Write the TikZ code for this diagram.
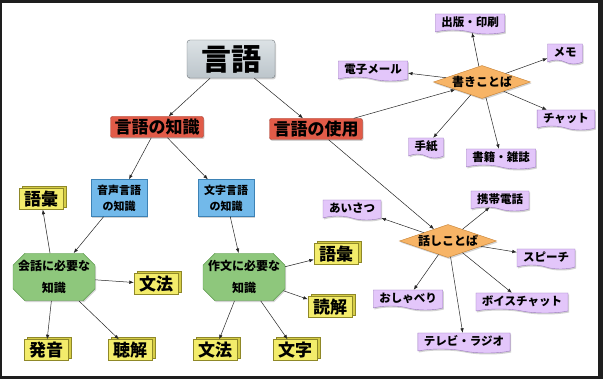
\documentclass[tikz,border=0pt]{standalone}
\usepackage{fontspec}
\setmainfont{Noto Sans CJK JP}
\usepackage{xcolor}
\usetikzlibrary{arrows.meta,shapes.geometric,shapes.misc,shapes.symbols,shadows}
\definecolor{FrameDark}{HTML}{1E1E1E}
\definecolor{RootTop}{HTML}{DCE2E5}
\definecolor{RootFill}{HTML}{BCC5CB}
\definecolor{RootLine}{HTML}{6E767B}
\definecolor{TopicFill}{HTML}{E15B48}
\definecolor{TopicLine}{HTML}{A63A2B}
\definecolor{SubFill}{HTML}{72B9EA}
\definecolor{SubLine}{HTML}{3D82B5}
\definecolor{HubFill}{HTML}{8EC77C}
\definecolor{HubLine}{HTML}{5A9849}
\definecolor{LeafFill}{HTML}{F3EC6B}
\definecolor{LeafSide}{HTML}{D6CD47}
\definecolor{LeafLine}{HTML}{8F8828}
\definecolor{WordFill}{HTML}{F7B466}
\definecolor{WordLine}{HTML}{C47F30}
\definecolor{NoteFill}{HTML}{E3C6FA}
\definecolor{NoteLine}{HTML}{9A78BE}

\begin{document}
\begin{tikzpicture}[
  x=1pt, y=-1pt,
  root/.style={draw=RootLine, top color=RootTop, bottom color=RootFill, rounded corners=3pt,
    minimum width=88pt, minimum height=38pt, inner sep=1pt,
    font=\fontsize{30}{32}\selectfont\bfseries,
    drop shadow={shadow xshift=1pt, shadow yshift=-1.5pt, opacity=0.35}},
  topic/.style={draw=TopicLine, fill=TopicFill, rounded corners=2pt, minimum height=21pt,
    inner xsep=4pt, inner ysep=1pt, font=\fontsize{17}{18}\selectfont\bfseries,
    drop shadow={shadow xshift=1pt, shadow yshift=-1.5pt, opacity=0.35}},
  sub/.style={draw=SubLine, fill=SubFill, minimum width=56pt, minimum height=37pt,
    inner sep=2pt, align=center, font=\fontsize{11}{16}\selectfont\bfseries,
    drop shadow={shadow xshift=1pt, shadow yshift=-1.5pt, opacity=0.35}},
  hub/.style={chamfered rectangle, chamfered rectangle xsep=5pt, chamfered rectangle ysep=7pt,
    draw=HubLine, fill=HubFill, minimum width=60pt, minimum height=35pt, inner sep=0pt,
    align=center, font=\fontsize{12}{22}\selectfont\bfseries,
    drop shadow={shadow xshift=1pt, shadow yshift=-1.5pt, opacity=0.35}},
  leaf/.style={draw=LeafLine, fill=LeafFill, minimum width=44pt, minimum height=21pt,
    inner sep=1pt, font=\fontsize{17}{18}\selectfont\bfseries,
    general shadow={draw=LeafLine, fill=LeafSide, shadow xshift=3pt, shadow yshift=2.5pt}},
  word/.style={diamond, aspect=3, draw=WordLine, fill=WordFill, minimum width=97pt,
    minimum height=33pt, inner sep=0pt, font=\fontsize{12}{13}\selectfont\bfseries,
    drop shadow={shadow xshift=1pt, shadow yshift=-1.5pt, opacity=0.35}},
  note/.style={tape, tape bend top=none, tape bend bottom=out and in, tape bend height=4pt,
    draw=NoteLine, fill=NoteFill, minimum height=20pt, inner xsep=6pt, inner ysep=2pt,
    font=\fontsize{11.5}{12}\selectfont\bfseries,
    drop shadow={shadow xshift=1pt, shadow yshift=-1.5pt, opacity=0.35}},
  arr/.style={-{Latex[length=4.5pt, width=3.5pt]}, draw=black!85, line width=0.5pt}
]
  % frame
  \fill[FrameDark] (0,0) rectangle (603,379);
  \fill[white] (2,3) rectangle (598,376);
  \useasboundingbox (0,0) rectangle (603,379);

  \node[root] (lang) at (231,59) {言語};
  \node[topic] (know) at (157,127) {言語の知識};
  \node[topic] (use) at (316,129) {言語の使用};

  % knowledge side
  \node[sub] (oral) at (119,198) {音声言語\\の知識};
  \node[sub] (script) at (226,198) {文字言語\\の知識};
  \node[hub] (talk) at (54,277) {会話に必要な\\知識};
  \node[hub] (comp) at (244,277) {作文に必要な\\知識};
  \node[leaf] (vocA) at (41,199) {語彙};
  \node[leaf] (gramA) at (156,284) {文法};
  \node[leaf] (pron) at (46,350) {発音};
  \node[leaf] (listen) at (130,350) {聴解};
  \node[leaf] (vocB) at (336,254) {語彙};
  \node[leaf] (read) at (330,307) {読解};
  \node[leaf] (gramB) at (215,350) {文法};
  \node[leaf] (chars) at (295,350) {文字};

  % use side
  \node[word] (written) at (482,82) {書きことば};
  \node[word] (spoken) at (448,241) {話しことば};
  \node[note] (pub) at (470,22) {出版・印刷};
  \node[note] (memo) at (565,52) {メモ};
  \node[note] (mail) at (373,69) {電子メール};
  \node[note] (chat) at (566,118) {チャット};
  \node[note] (letter) at (426,146) {手紙};
  \node[note] (books) at (501,157) {書籍・雑誌};
  \node[note] (greet) at (352,208) {あいさつ};
  \node[note] (phone) at (500,199) {携帯電話};
  \node[note] (speech) at (546,257) {スピーチ};
  \node[note] (chatter) at (408,298) {おしゃべり};
  \node[note] (vchat) at (522,301) {ボイスチャット};
  \node[note] (tv) at (464,341) {テレビ・ラジオ};

  \draw[arr] (lang) -- (know);
  \draw[arr] (lang) -- (use);
  \draw[arr] (know) -- (oral);
  \draw[arr] (know) -- (script);
  \draw[arr] (oral) -- (talk);
  \draw[arr] (script) -- (comp);
  \draw[arr] (talk) -- (vocA);
  \draw[arr] (talk) -- (gramA);
  \draw[arr] (talk) -- (pron);
  \draw[arr] (talk) -- (listen);
  \draw[arr] (comp) -- (vocB);
  \draw[arr] (comp) -- (read);
  \draw[arr] (comp) -- (gramB);
  \draw[arr] (comp) -- (chars);

  \draw[arr] (use) -- (written);
  \draw[arr] (use) -- (spoken);
  \draw[arr] (written) -- (pub);
  \draw[arr] (written) -- (memo);
  \draw[arr] (written) -- (mail);
  \draw[arr] (written) -- (chat);
  \draw[arr] (written) -- (letter);
  \draw[arr] (written) -- (books);
  \draw[arr] (spoken) -- (greet);
  \draw[arr] (spoken) -- (phone);
  \draw[arr] (spoken) -- (speech);
  \draw[arr] (spoken) -- (chatter);
  \draw[arr] (spoken) -- (vchat);
  \draw[arr] (spoken) -- (tv);
\end{tikzpicture}
\end{document}
